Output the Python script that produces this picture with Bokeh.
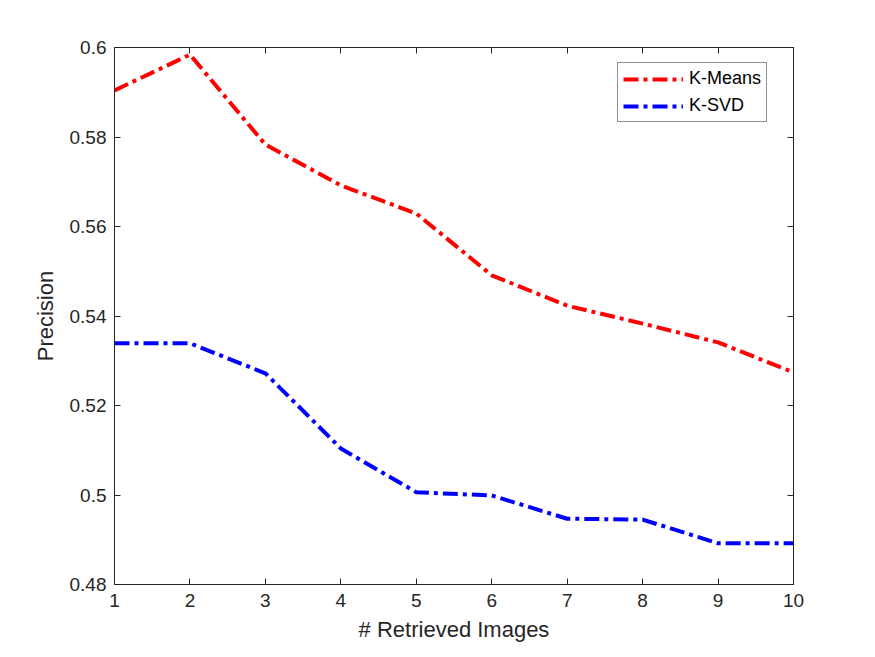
from bokeh.plotting import figure
from bokeh.models import LinearAxis, Range1d, FixedTicker, Legend, LegendItem
from bokeh.embed import file_html
from bokeh.resources import INLINE

x_vals = [1, 2, 3, 4, 5, 6, 7, 8, 9, 10]
kmeans = [0.5904, 0.5984, 0.5783, 0.5692, 0.5629, 0.5491, 0.5423, 0.5383, 0.5341, 0.5274]
ksvd = [0.5339, 0.5339, 0.5272, 0.5104, 0.5006, 0.4999, 0.4947, 0.4945, 0.4892, 0.4892]
x_ticks = [1, 2, 3, 4, 5, 6, 7, 8, 9, 10]
y_ticks = [0.48, 0.5, 0.52, 0.54, 0.56, 0.58, 0.6]
y_tick_labels = {0.48: "0.48", 0.5: "0.5", 0.52: "0.52", 0.54: "0.54", 0.56: "0.56", 0.58: "0.58", 0.6: "0.6"}

FONT = "Liberation Sans"
TXT = "#262626"

p = figure(width=875, height=657, output_backend="svg", toolbar_location=None,
           x_range=Range1d(1, 10), y_range=Range1d(0.48, 0.6),
           min_border_left=114, min_border_right=82, min_border_top=47, min_border_bottom=73)
p.grid.visible = False
p.outline_line_color = TXT
p.outline_line_width = 1

def style(ax, show_labels):
    ax.major_tick_in = 6
    ax.major_tick_out = 0
    ax.minor_tick_line_color = None
    ax.axis_line_color = TXT
    ax.major_tick_line_color = TXT
    ax.major_label_text_font = FONT
    ax.major_label_text_font_size = "19px"
    ax.major_label_text_color = TXT
    ax.axis_label_text_font = FONT
    ax.axis_label_text_font_size = "22px"
    ax.axis_label_text_font_style = "normal"
    ax.axis_label_text_color = TXT
    if not show_labels:
        ax.major_label_text_font_size = "0px"
        ax.major_label_text_color = None

p.xaxis.ticker = FixedTicker(ticks=x_ticks)
p.yaxis.ticker = FixedTicker(ticks=y_ticks)
p.yaxis.major_label_overrides = y_tick_labels
p.xaxis.axis_label = "# Retrieved Images"
p.yaxis.axis_label = "Precision"
style(p.xaxis[0], True)
style(p.yaxis[0], True)
p.xaxis.major_label_standoff = 9
p.xaxis.axis_label_standoff = 7
p.yaxis.major_label_standoff = 8
p.yaxis.axis_label_standoff = 9

top = LinearAxis(ticker=FixedTicker(ticks=x_ticks))
right = LinearAxis(ticker=FixedTicker(ticks=y_ticks))
style(top, False)
style(right, False)
p.add_layout(top, "above")
p.add_layout(right, "right")

dash = "15 5 4 5"
r1 = p.line(x_vals, kmeans, line_color="#ff0000", line_width=4, line_dash=dash)
r2 = p.line(x_vals, ksvd, line_color="#0000ff", line_width=4, line_dash=dash)

legend = Legend(items=[LegendItem(label="K-Means", renderers=[r1]),
                       LegendItem(label="K-SVD", renderers=[r2])],
                location=(503, 462))
legend.label_text_font = FONT
legend.label_text_font_size = "18px"
legend.label_text_color = "#000000"
legend.glyph_width = 60
legend.glyph_height = 20
legend.label_height = 20
legend.spacing = 6
legend.padding = 5
legend.margin = 0
legend.label_standoff = 6
legend.border_line_color = TXT
legend.border_line_width = 1
legend.background_fill_color = "white"
p.add_layout(legend, "center")

open("out.html", "w").write(file_html(p, INLINE))
